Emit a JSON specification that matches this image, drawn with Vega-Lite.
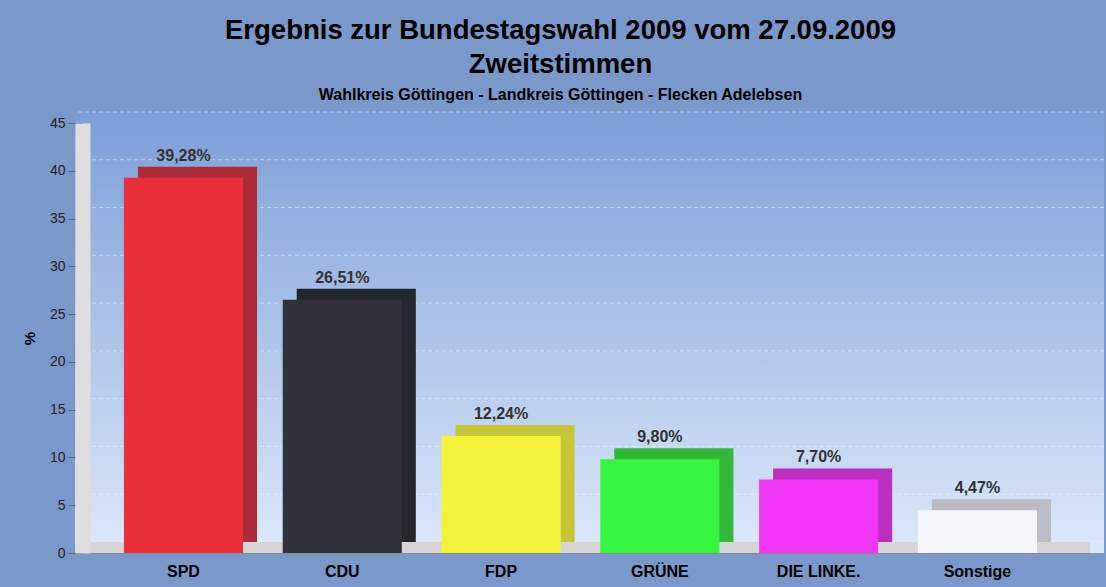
{
  "$schema": "https://vega.github.io/schema/vega-lite/v6.json",
  "autosize": {"type": "none"},
  "width": 1015,
  "height": 430,
  "padding": {"left": 75, "top": 123, "right": 16, "bottom": 34},
  "background": "#7a98c9",
  "config": {
    "view": {"stroke": null},
    "font": "Liberation Sans"
  },
  "title": {
    "text": ["Ergebnis zur Bundestagswahl 2009 vom 27.09.2009", "Zweitstimmen"],
    "subtitle": "Wahlkreis Göttingen - Landkreis Göttingen - Flecken Adelebsen",
    "font": "Liberation Sans",
    "fontSize": 27.5,
    "fontWeight": "bold",
    "color": "#000000",
    "lineHeight": 34,
    "subtitleFont": "Liberation Sans",
    "subtitleFontSize": 16,
    "subtitleFontWeight": "bold",
    "subtitleColor": "#000000",
    "subtitlePadding": 8,
    "anchor": "middle",
    "dx": -22,
    "offset": 9
  },
  "datasets": {
    "parties": [
      {"party": "SPD", "value": 39.28, "label": "39,28%"},
      {"party": "CDU", "value": 26.51, "label": "26,51%"},
      {"party": "FDP", "value": 12.24, "label": "12,24%"},
      {"party": "GRÜNE", "value": 9.80, "label": "9,80%"},
      {"party": "DIE LINKE.", "value": 7.70, "label": "7,70%"},
      {"party": "Sonstige", "value": 4.47, "label": "4,47%"}
    ],
    "grid": [
      {"tick": 0}, {"tick": 5}, {"tick": 10}, {"tick": 15}, {"tick": 20},
      {"tick": 25}, {"tick": 30}, {"tick": 35}, {"tick": 40}, {"tick": 45}
    ]
  },
  "resolve": {"scale": {"color": "independent"}},
  "layer": [
    {
      "data": {"name": "grid"},
      "mark": {
        "type": "rect",
        "xOffset": 14,
        "yOffset": -11,
        "fill": {
          "gradient": "linear", "x1": 0, "y1": 0, "x2": 0, "y2": 1,
          "stops": [
            {"offset": 0, "color": "#7c9ed6"},
            {"offset": 1, "color": "#dde9fb"}
          ]
        }
      },
      "encoding": {
        "y": {"datum": 45, "type": "quantitative", "scale": {"domain": [0, 45]}},
        "y2": {"datum": 0}
      }
    },
    {
      "data": {"name": "grid"},
      "mark": {"type": "rule", "xOffset": 14, "yOffset": -11, "stroke": "#ffffff", "strokeOpacity": 0.45, "strokeDash": [4, 3], "strokeWidth": 1},
      "encoding": {
        "y": {"field": "tick", "type": "quantitative"}
      }
    },
    {
      "data": {"name": "grid"},
      "mark": {"type": "rect", "fill": "#d5d5d5"},
      "encoding": {
        "y": {"datum": 0, "type": "quantitative"},
        "y2": {"datum": 1.15}
      }
    },
    {
      "data": {"name": "parties"},
      "mark": {"type": "bar", "xOffset": 14, "yOffset": -11},
      "encoding": {
        "x": {
          "field": "party", "type": "nominal", "sort": null,
          "scale": {"paddingInner": 0.25, "paddingOuter": 0.321, "align": 0.48},
          "axis": {
            "title": null,
            "labelAngle": 0,
            "labelFont": "Liberation Sans",
            "labelFontSize": 16,
            "labelFontWeight": "bold",
            "labelColor": "#000000",
            "labelPadding": 10,
            "ticks": false,
            "domainColor": "#8a8a8a",
            "domainWidth": 1
          }
        },
        "y": {
          "field": "value", "type": "quantitative",
          "scale": {"domain": [0, 45]},
          "axis": {
            "title": "%",
            "titleFont": "Liberation Sans",
            "titleFontSize": 15,
            "titleFontWeight": "bold",
            "titleColor": "#000000",
            "titlePadding": 12,
            "values": [0, 5, 10, 15, 20, 25, 30, 35, 40, 45],
            "grid": false,
            "offset": -7.5,
            "domainColor": "#dedede",
            "domainWidth": 15,
            "tickColor": "#666666",
            "tickSize": 14.5,
            "labelPadding": 3,
            "labelFont": "Liberation Sans",
            "labelFontSize": 14,
            "labelColor": "#222222",
            "zindex": 1
          }
        },
        "color": {
          "field": "party", "type": "nominal", "legend": null,
          "scale": {
            "domain": ["SPD", "CDU", "FDP", "GRÜNE", "DIE LINKE.", "Sonstige"],
            "range": ["#ab2b36", "#23282f", "#c6c638", "#33b83c", "#bb30c0", "#babec4"]
          }
        }
      }
    },
    {
      "data": {"name": "parties"},
      "mark": {"type": "bar"},
      "encoding": {
        "x": {"field": "party", "type": "nominal", "sort": null},
        "y": {"field": "value", "type": "quantitative"},
        "color": {
          "field": "party", "type": "nominal", "legend": null,
          "scale": {
            "domain": ["SPD", "CDU", "FDP", "GRÜNE", "DIE LINKE.", "Sonstige"],
            "range": ["#e8303a", "#2f343c", "#f3f33c", "#35f53f", "#f236f5", "#f3f6fb"]
          }
        }
      }
    },
    {
      "data": {"name": "parties"},
      "mark": {"type": "text", "font": "Liberation Sans", "fontSize": 16, "fontWeight": "bold", "color": "#333333", "baseline": "alphabetic", "dy": -17},
      "encoding": {
        "x": {"field": "party", "type": "nominal", "sort": null},
        "y": {"field": "value", "type": "quantitative"},
        "text": {"field": "label"}
      }
    }
  ]
}
